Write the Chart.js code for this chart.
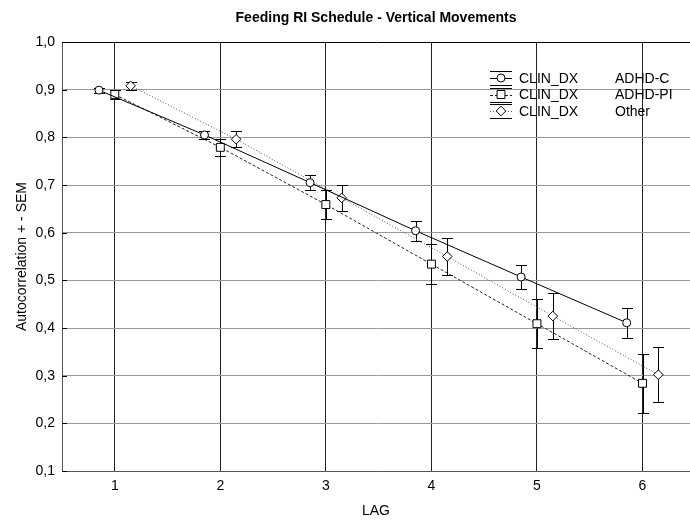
<!DOCTYPE html>
<html>
<head>
<meta charset="utf-8">
<script src="https://cdn.jsdelivr.net/npm/chart.js@4"></script>
<style>
  html, body { margin: 0; padding: 0; background: #fff; overflow: hidden; }
  #wrap { width: 690px; height: 520px; position: relative; }
</style>
</head>
<body>
<div id="wrap"><canvas id="chart"></canvas></div>
<script>
// values
const lags = [1, 2, 3, 4, 5, 6];
const yTicks = [0.1, 0.2, 0.3, 0.4, 0.5, 0.6, 0.7, 0.8, 0.9, 1.0];

const adhdC = [0.899, 0.805, 0.705, 0.604, 0.507, 0.411];
const adhdCErr = [0.005, 0.008, 0.015, 0.021, 0.026, 0.031];

const adhdPI = [0.890, 0.779, 0.659, 0.534, 0.409, 0.284];
const adhdPIErr = [0.009, 0.018, 0.030, 0.042, 0.052, 0.062];

const other = [0.908, 0.796, 0.673, 0.550, 0.425, 0.302];
const otherErr = [0.009, 0.017, 0.028, 0.038, 0.048, 0.058];

const groupNames = ['ADHD-C', 'ADHD-PI', 'Other'];
const factorName = 'CLIN_DX';

const FONT = 'Arial, "Liberation Sans", sans-serif';

function makeSet(label, vals, errs, shift, style, radius, dash, color) {
  return {
    label: label,
    data: lags.map((x, i) => ({ x: x + shift, y: vals[i] })),
    errors: errs,
    showLine: true,
    borderColor: color,
    borderWidth: 1,
    borderDash: dash,
    pointStyle: style,
    pointRadius: radius,
    pointBorderColor: '#000',
    pointBackgroundColor: '#fff',
    pointBorderWidth: 1
  };
}

const datasets = [
  makeSet(groupNames[0], adhdC, adhdCErr, -0.15, 'circle', 4, [], '#000'),
  makeSet(groupNames[1], adhdPI, adhdPIErr, 0, 'rect', 5.6, [3, 2], '#222'),
  makeSet(groupNames[2], other, otherErr, 0.15, 'rectRot', 4.8, [1, 2], '#555')
];

// error bars behind the markers
const errorBars = {
  id: 'errorBars',
  beforeDatasetsDraw(chart) {
    const ctx = chart.ctx;
    const xs = chart.scales.x, ys = chart.scales.y;
    ctx.save();
    ctx.strokeStyle = '#000';
    ctx.lineWidth = 1;
    chart.data.datasets.forEach(ds => {
      ds.data.forEach((p, i) => {
        const e = ds.errors[i];
        const px = Math.round(xs.getPixelForValue(p.x)) + 0.5;
        const top = Math.round(ys.getPixelForValue(p.y + e)) + 0.5;
        const bot = Math.round(ys.getPixelForValue(p.y - e)) + 0.5;
        ctx.beginPath();
        ctx.moveTo(px, top); ctx.lineTo(px, bot);
        ctx.moveTo(px - 5.5, top); ctx.lineTo(px + 5.5, top);
        ctx.moveTo(px - 5.5, bot); ctx.lineTo(px + 5.5, bot);
        ctx.stroke();
      });
    });
    // short inner ticks on the y axis
    const a = chart.chartArea;
    ctx.beginPath();
    yTicks.forEach(v => {
      const py = Math.round(ys.getPixelForValue(v)) + 0.5;
      ctx.moveTo(a.left, py); ctx.lineTo(a.left + 5, py);
    });
    ctx.stroke();
    ctx.restore();
  }
};

// legend drawn inside the plot, like the original
const boxLegend = {
  id: 'boxLegend',
  afterDatasetsDraw(chart) {
    const ctx = chart.ctx;
    const rows = [78, 94.5, 111];
    const cx = 501;
    ctx.save();
    ctx.font = '14px ' + FONT;
    ctx.textBaseline = 'middle';
    chart.data.datasets.forEach((ds, i) => {
      const y = rows[i];
      ctx.strokeStyle = '#000';
      ctx.lineWidth = 1;
      ctx.setLineDash([]);
      ctx.beginPath();
      ctx.moveTo(cx - 11, Math.round(y - 7) + 0.5); ctx.lineTo(cx + 11, Math.round(y - 7) + 0.5);
      ctx.moveTo(cx - 11, Math.round(y + 7) + 0.5); ctx.lineTo(cx + 11, Math.round(y + 7) + 0.5);
      ctx.stroke();
      ctx.strokeStyle = ds.borderColor;
      ctx.setLineDash(ds.borderDash);
      ctx.beginPath();
      ctx.moveTo(cx - 11, Math.round(y) + 0.5); ctx.lineTo(cx + 11, Math.round(y) + 0.5);
      ctx.stroke();
      ctx.setLineDash([]);
      ctx.fillStyle = '#fff';
      ctx.strokeStyle = '#000';
      Chart.helpers.drawPoint(ctx, {
        pointStyle: ds.pointStyle, radius: ds.pointRadius, borderWidth: 1, rotation: 0
      }, cx, y);
      ctx.fillStyle = '#000';
      ctx.fillText(factorName, 519, y + 1);
      ctx.fillText(groupNames[i], 615, y + 1);
    });
    ctx.restore();
  }
};

const chart = new Chart(document.getElementById('chart'), {
  type: 'scatter',
  data: { datasets: datasets },
  plugins: [errorBars, boxLegend],
  options: {
    responsive: true,
    maintainAspectRatio: false,
    animation: false,
    layout: { padding: 0, autoPadding: false },
    plugins: {
      legend: { display: false },
      tooltip: { enabled: false },
      title: {
        display: true,
        fullSize: false,
        text: 'Feeding RI Schedule - Vertical Movements',
        color: '#000',
        font: { family: FONT, size: 14, weight: 'bold' },
        padding: { top: 9.6, bottom: 15.6 }
      }
    },
    scales: {
      x: {
        type: 'linear',
        min: 0.5,
        max: 6.45,
        afterBuildTicks: s => { s.ticks = lags.map(v => ({ value: v })); },
        afterFit: s => { s.height = 49; s.paddingLeft = 0; s.paddingRight = 0; },
        border: { display: true, color: '#555', width: 1 },
        grid: { color: '#222', lineWidth: 1, drawTicks: false },
        ticks: {
          color: '#000',
          padding: 7,
          maxRotation: 0,
          font: { family: FONT, size: 14 },
          callback: v => String(v)
        },
        title: {
          display: true,
          text: 'LAG',
          color: '#000',
          font: { family: FONT, size: 14 },
          padding: { top: 0, bottom: 0 }
        }
      },
      y: {
        min: 0.1,
        max: 1.0,
        afterBuildTicks: s => { s.ticks = yTicks.map(v => ({ value: v })); },
        afterFit: s => { s.width = 62; },
        border: { display: true, color: '#555', width: 1 },
        grid: {
          color: c => (c.tick && c.tick.value >= 0.999) ? '#000' : '#999',
          lineWidth: 1,
          drawTicks: false
        },
        ticks: {
          color: '#000',
          padding: 7,
          font: { family: FONT, size: 14 },
          callback: v => v.toFixed(1).replace('.', ',')
        },
        title: {
          display: true,
          text: 'Autocorrelation + - SEM',
          color: '#000',
          font: { family: FONT, size: 14 },
          padding: { top: 14, bottom: 0 }
        }
      }
    }
  }
});
</script>
</body>
</html>
